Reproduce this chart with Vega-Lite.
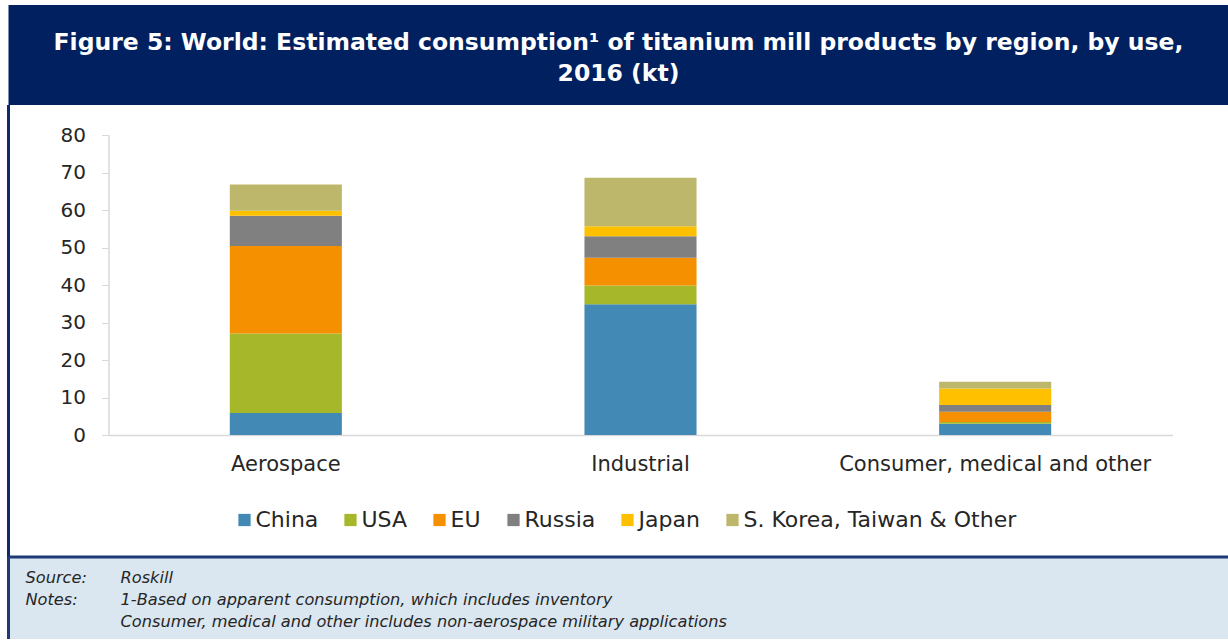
{
  "$schema": "https://vega.github.io/schema/vega-lite/v6.json",
  "padding": {"left": 6.5, "top": 5, "right": 0, "bottom": 0},
  "background": "white",
  "bounds": "flush",
  "spacing": 0,
  "config": {
    "view": {"stroke": null},
    "font": "DejaVu Sans",
    "concat": {"spacing": 0}
  },
  "datasets": {
    "header": [
      {"line": 1, "text": "Figure 5: World: Estimated consumption¹ of titanium mill products by region, by use,"},
      {"line": 2, "text": "2016 (kt)"}
    ],
    "consumption": [
      {"use": "Aerospace", "region": "China", "kt": 5.9},
      {"use": "Aerospace", "region": "USA", "kt": 21.2},
      {"use": "Aerospace", "region": "EU", "kt": 23.3},
      {"use": "Aerospace", "region": "Russia", "kt": 8.1},
      {"use": "Aerospace", "region": "Japan", "kt": 1.3},
      {"use": "Aerospace", "region": "S. Korea, Taiwan & Other", "kt": 7.0},
      {"use": "Industrial", "region": "China", "kt": 34.9},
      {"use": "Industrial", "region": "USA", "kt": 5.0},
      {"use": "Industrial", "region": "EU", "kt": 7.4},
      {"use": "Industrial", "region": "Russia", "kt": 5.7},
      {"use": "Industrial", "region": "Japan", "kt": 2.7},
      {"use": "Industrial", "region": "S. Korea, Taiwan & Other", "kt": 12.9},
      {"use": "Consumer, medical and other", "region": "China", "kt": 3.0},
      {"use": "Consumer, medical and other", "region": "USA", "kt": 0.5},
      {"use": "Consumer, medical and other", "region": "EU", "kt": 2.7},
      {"use": "Consumer, medical and other", "region": "Russia", "kt": 1.8},
      {"use": "Consumer, medical and other", "region": "Japan", "kt": 4.4},
      {"use": "Consumer, medical and other", "region": "S. Korea, Taiwan & Other", "kt": 1.8}
    ],
    "footer": [
      {"col": "label", "line": 1, "text": "Source:"},
      {"col": "content", "line": 1, "text": "Roskill"},
      {"col": "label", "line": 2, "text": "Notes:"},
      {"col": "content", "line": 2, "text": "1-Based on apparent consumption, which includes inventory"},
      {"col": "content", "line": 3, "text": "Consumer, medical and other includes non-aerospace military applications"}
    ]
  },
  "vconcat": [
    {
      "width": 1220,
      "height": 100,
      "view": {"fill": "#002060", "stroke": null},
      "data": {"name": "header"},
      "mark": {"type": "text", "color": "white", "fontWeight": "bold", "fontSize": 23.5, "font": "DejaVu Sans", "baseline": "middle", "align": "center"},
      "encoding": {
        "y": {"field": "line", "type": "ordinal", "axis": null, "scale": {"type": "point", "range": [38, 69], "padding": 0}},
        "text": {"field": "text", "type": "nominal"}
      }
    },
    {
      "width": 1218.5,
      "height": 452,
      "view": {"fill": "white", "stroke": "#0f2a6b", "strokeWidth": 3, "strokeDash": [0, 2889, 452, 0]},
      "data": {"name": "consumption"},
      "transform": [
        {"calculate": "indexof(['China', 'USA', 'EU', 'Russia', 'Japan', 'S. Korea, Taiwan & Other'], datum.region)", "as": "stackOrder"}
      ],
      "mark": {"type": "bar"},
      "encoding": {
        "x": {
          "field": "use", "type": "nominal",
          "sort": ["Aerospace", "Industrial", "Consumer, medical and other"],
          "scale": {"range": [100, 1164], "paddingInner": 0.684, "paddingOuter": 0.342},
          "axis": {"orient": "bottom", "offset": -122, "title": null, "labelAngle": 0, "labelFontSize": 21, "labelFont": "DejaVu Sans", "labelColor": "#262626", "ticks": false, "tickSize": 0, "labelPadding": 18, "domainColor": "#d9d9d9", "domainWidth": 1.5, "grid": false, "labelLimit": 500}
        },
        "y": {
          "field": "kt", "type": "quantitative", "stack": "zero",
          "scale": {"domain": [0, 80], "range": [330, 30], "nice": false},
          "axis": {"offset": -100, "title": null, "values": [0, 10, 20, 30, 40, 50, 60, 70, 80], "labelFontSize": 20, "labelFont": "DejaVu Sans", "labelColor": "#262626", "tickColor": "#d9d9d9", "tickSize": 7, "labelPadding": 16, "domainColor": "#d9d9d9", "domainWidth": 1.5, "grid": false}
        },
        "order": {"field": "stackOrder", "type": "quantitative", "sort": "ascending"},
        "color": {
          "field": "region", "type": "nominal",
          "sort": ["China", "USA", "EU", "Russia", "Japan", "S. Korea, Taiwan & Other"],
          "scale": {
            "domain": ["China", "USA", "EU", "Russia", "Japan", "S. Korea, Taiwan & Other"],
            "range": ["#4289b5", "#a6b82a", "#f59100", "#808080", "#ffc000", "#bdb76b"]
          },
          "legend": {"orient": "none", "legendX": 225, "legendY": 404, "direction": "horizontal", "columns": 6, "title": null, "symbolType": "square", "symbolSize": 150, "symbolStrokeWidth": 0, "labelFontSize": 22, "labelFont": "DejaVu Sans", "labelColor": "#262626", "labelOffset": 0, "columnPadding": 21, "labelLimit": 500}
        }
      }
    },
    {
      "width": 1220,
      "height": 82,
      "view": {"fill": "#dae6f0", "stroke": "#1f3a78", "strokeWidth": 3, "strokeDash": [1220, 1302, 82, 0]},
      "data": {"name": "footer"},
      "mark": {"type": "text", "align": "left", "baseline": "middle", "fontStyle": "italic", "fontSize": 16.2, "font": "DejaVu Sans", "color": "#262626"},
      "encoding": {
        "x": {"field": "col", "type": "nominal", "axis": null, "scale": {"type": "point", "domain": ["label", "content"], "range": [17, 112], "padding": 0}},
        "y": {"field": "line", "type": "ordinal", "axis": null, "scale": {"type": "point", "range": [21, 65], "padding": 0}},
        "text": {"field": "text", "type": "nominal"}
      }
    }
  ],
  "resolve": {
    "scale": {"x": "independent", "y": "independent", "color": "independent"},
    "axis": {"x": "independent", "y": "independent"},
    "legend": {"color": "independent"}
  }
}
